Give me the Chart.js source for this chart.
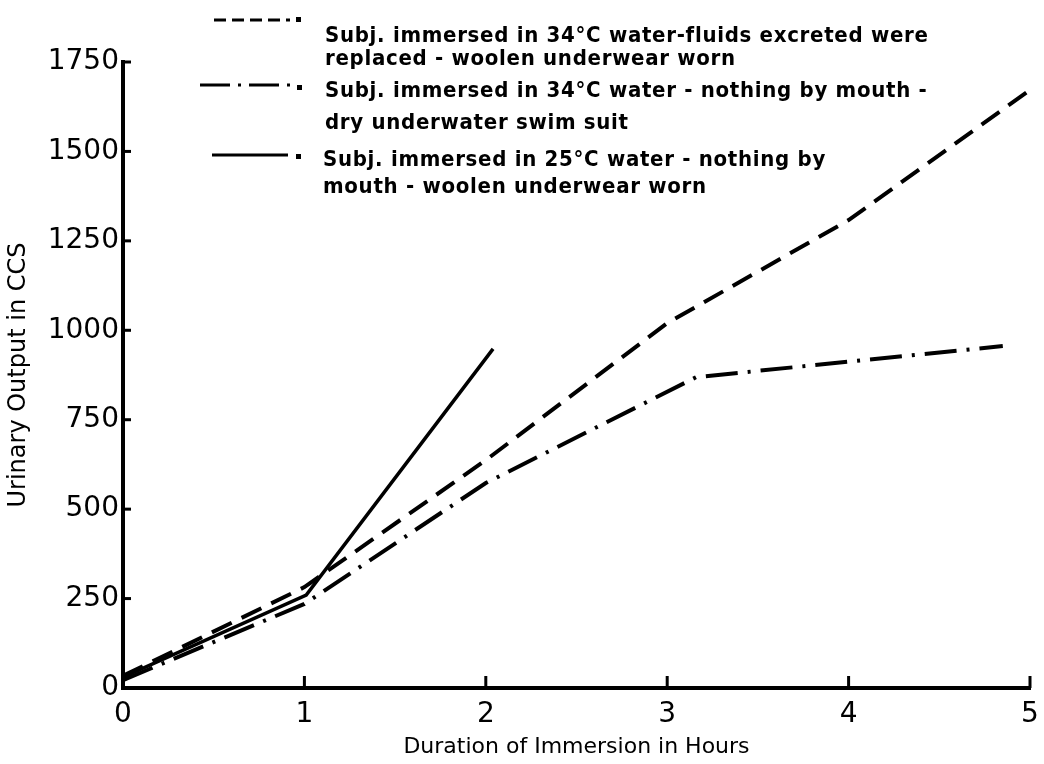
<!DOCTYPE html>
<html>
<head>
<meta charset="utf-8">
<script src="https://cdn.jsdelivr.net/npm/chart.js@4.4.1/dist/chart.umd.min.js"></script>
<style>
    body { margin: 0; background: #fff; }
    #wrap { position: relative; width: 1044px; height: 764px; }
    #urineChart { position: absolute; left: 0; top: 0; }
    .legendSample { position: absolute; }
    .legendMark { position: absolute; width: 5px; height: 5px; background: #000; }
    .legendText {
        position: absolute;
        font-family: 'DejaVu Sans Condensed', 'DejaVu Sans', sans-serif;
        font-weight: bold;
        font-size: 22px;
        letter-spacing: 0.7px;
        color: #000;
        white-space: nowrap;
    }
</style>
</head>
<body>
<div id="wrap">
    <canvas id="urineChart" width="1044" height="764"></canvas>

    <svg class="legendSample" style="left:212px; top:10px;" width="80" height="20"><line x1="2" y1="10" x2="78" y2="10" stroke="#000" stroke-width="3" stroke-dasharray="12,6"/></svg>
    <span class="legendMark" style="left:296px; top:17px;"></span>
    <div class="legendText" style="left:325px; top:23px; line-height:23px;">Subj. immersed in 34°C water-fluids excreted were<br>replaced - woolen underwear worn</div>

    <svg class="legendSample" style="left:198px; top:75px;" width="94" height="20"><line x1="2" y1="10" x2="92" y2="10" stroke="#000" stroke-width="3" stroke-dasharray="30,8,3,8"/></svg>
    <span class="legendMark" style="left:297px; top:85px;"></span>
    <div class="legendText" style="left:325px; top:74px; line-height:32px;">Subj. immersed in 34°C water - nothing by mouth -<br>dry underwater swim suit</div>

    <svg class="legendSample" style="left:210px; top:145px;" width="80" height="20"><line x1="2" y1="10" x2="78" y2="10" stroke="#000" stroke-width="3"/></svg>
    <span class="legendMark" style="left:296px; top:154px;"></span>
    <div class="legendText" style="left:323px; top:145px; line-height:27px;">Subj. immersed in 25°C water - nothing by<br>mouth - woolen underwear worn</div>
</div>

<script>
document.addEventListener('DOMContentLoaded', function () {

    const canvas = document.getElementById('urineChart');
    if (!canvas) return;
    const ctx = canvas.getContext('2d');

    /* DATA */
    const hoursFluids = [0, 1, 2, 3, 4, 5];
    const outputFluids = [34, 282, 637, 1020, 1308, 1672];

    const hoursDry = [0, 1, 2, 3.16, 4.85];
    const outputDry = [22, 235, 573, 869, 956];

    const hoursCold = [0, 1.01, 2.04];
    const outputCold = [30, 260, 948];

    const xTicks = [0, 1, 2, 3, 4, 5];
    const yTicks = [0, 250, 500, 750, 1000, 1250, 1500, 1750];

    const toPoints = (xs, ys) => xs.map((x, i) => ({ x: x, y: ys[i] }));

    const ink = '#000000';
    const tickFont = { family: 'DejaVu Sans', size: 28 };

    /* inward tick marks like the original drawing */
    const innerTicks = {
        id: 'innerTicks',
        afterDraw(chart) {
            const c = chart.ctx;
            const xs = chart.scales.x, ys = chart.scales.y;
            c.save();
            c.strokeStyle = ink;
            c.lineWidth = 3;
            yTicks.forEach(v => {
                const py = ys.getPixelForValue(v);
                c.beginPath();
                c.moveTo(xs.left, py);
                c.lineTo(xs.left + 8, py);
                c.stroke();
            });
            xTicks.forEach(v => {
                const px = xs.getPixelForValue(v);
                c.beginPath();
                c.moveTo(px, ys.bottom);
                c.lineTo(px, ys.bottom - 12);
                c.stroke();
            });
            c.restore();
        }
    };

    new Chart(ctx, {
        type: 'line',
        data: {
            datasets: [{
                data: toPoints(hoursFluids, outputFluids),
                borderColor: ink,
                borderWidth: 4,
                borderDash: [22, 11],
                pointRadius: 0
            }, {
                data: toPoints(hoursDry, outputDry),
                borderColor: ink,
                borderWidth: 4,
                borderDash: [32, 10, 3, 10],
                pointRadius: 0
            }, {
                data: toPoints(hoursCold, outputCold),
                borderColor: ink,
                borderWidth: 3.5,
                pointRadius: 0
            }]
        },
        options: {
            responsive: false,
            animation: false,
            layout: { padding: { top: 62, right: 14, left: 0, bottom: 0 } },
            plugins: {
                legend: { display: false },
                tooltip: { enabled: false }
            },
            scales: {
                x: {
                    type: 'linear',
                    min: 0,
                    max: 5,
                    afterFit(scale) { scale.height = 76; scale.paddingRight = 0; },
                    afterBuildTicks(scale) { scale.ticks = xTicks.map(v => ({ value: v })); },
                    grid: { display: false, drawTicks: false },
                    border: { color: ink, width: 4 },
                    ticks: { color: ink, font: tickFont, padding: 10, callback: v => String(v) },
                    title: {
                        display: true,
                        text: 'Duration of Immersion in Hours',
                        color: ink,
                        font: { family: 'DejaVu Sans', size: 22 },
                        padding: { top: 0 }
                    }
                },
                y: {
                    min: 0,
                    max: 1750,
                    afterFit(scale) { scale.width = 123; },
                    afterBuildTicks(scale) { scale.ticks = yTicks.map(v => ({ value: v })); },
                    grid: { display: false, drawTicks: false },
                    border: { color: ink, width: 4 },
                    ticks: { color: ink, font: tickFont, padding: 4, callback: v => String(v) },
                    title: {
                        display: true,
                        text: 'Urinary Output in CCS',
                        color: ink,
                        font: { family: 'DejaVu Sans', size: 24 },
                        padding: { bottom: 0 }
                    }
                }
            }
        },
        plugins: [innerTicks]
    });
});
</script>
</body>
</html>
